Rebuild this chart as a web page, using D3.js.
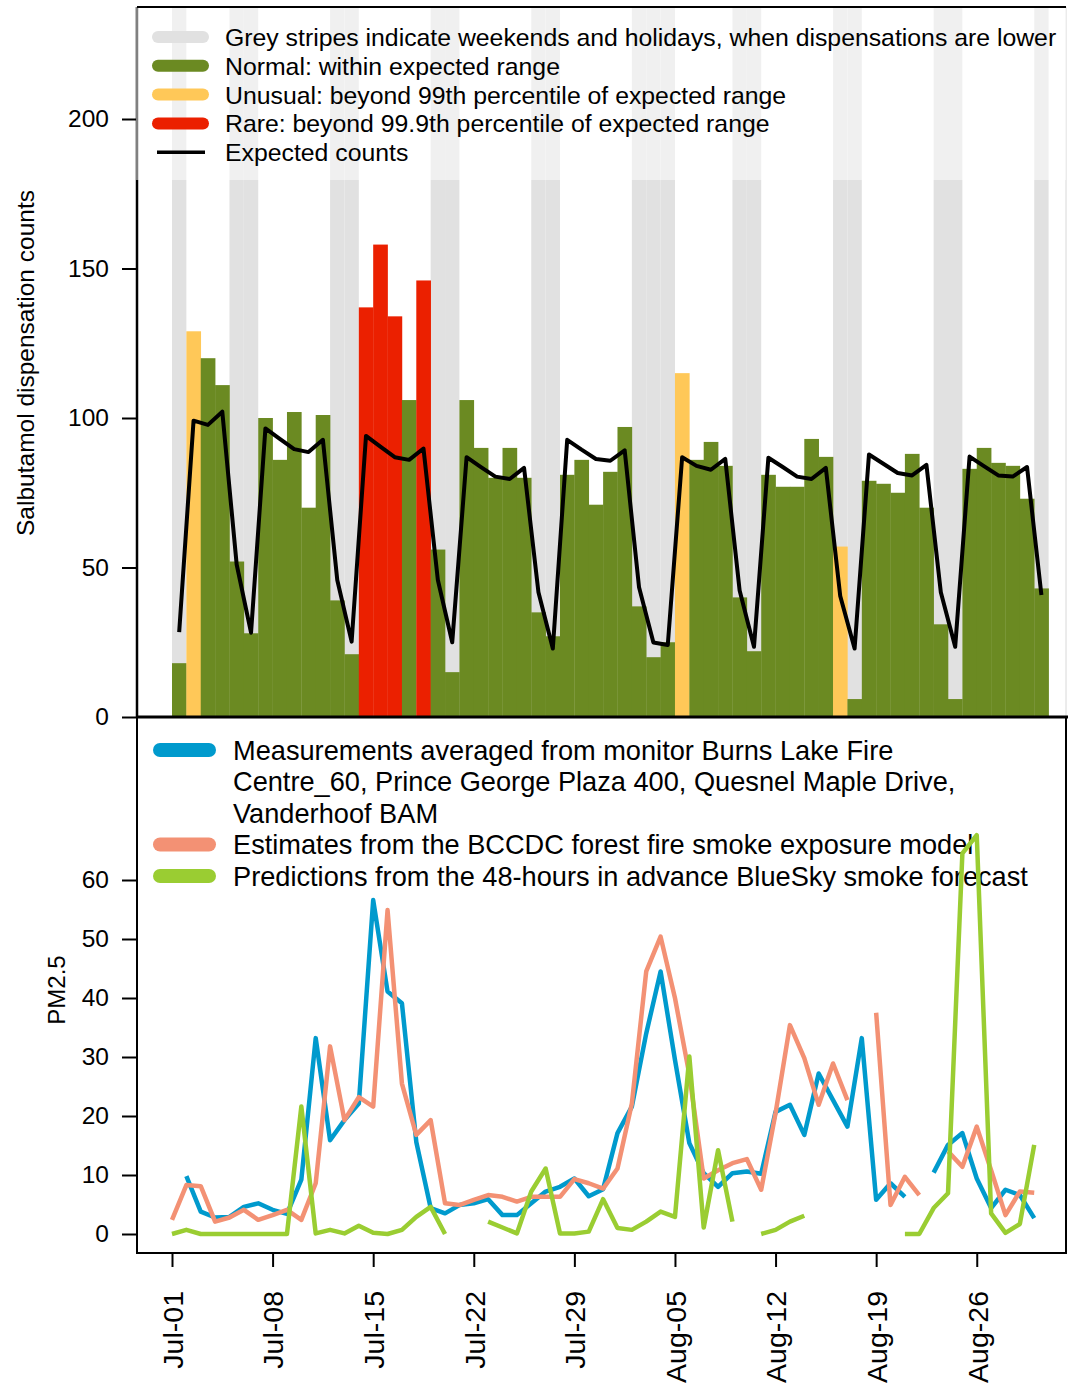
<!DOCTYPE html>
<html><head><meta charset="utf-8">
<script src="https://cdn.jsdelivr.net/npm/d3@7"></script>
<style>
body{margin:0;background:#fff}
svg text{font-family:"Liberation Sans",Arial,Helvetica,sans-serif;fill:#000}
</style>
</head><body>
<svg id="chart" width="1068" height="1387"></svg>
<script>
// ---------- data ----------
const startDate = "2014-07-01";
const endDate = "2014-08-31"; // exclusive end of x range
const counts = [18,129,120,111,52,28,100,86,102,70,101,39,21,137,158,134,106,146,56,15,
  106,90,80,90,80,35,27,81,86,71,82,97,37,20,25,115,86,92,84,40,22,81,77,77,93,87,57,6,
  79,78,75,88,70,31,6,83,90,85,84,73,43];
const status = ("N" + "U" + "NNNNNNNNNNN" + "RRR" + "N" + "R" + "NNNNNNNNNNNNNNNNN" + "U" +
  "NNNNNNNNNN" + "U" + "NNNNNNNNNNNNNN").split("");
const expected = [28.4,99.1,97.7,102.1,51,28.2,96.5,93,89.6,88.6,92.7,45.8,25.2,94,90.4,86.9,86,89.8,45.8,25,
  86.9,83.6,80.4,79.6,83.3,41.7,22.9,92.7,89.4,86.3,85.7,89.2,43.4,24.9,24.1,86.9,84,82.7,86.3,42.3,23.5,
  86.7,83.6,80.4,79.6,83.3,40.5,22.9,87.8,84.7,81.6,80.8,84.3,41.7,23.5,87.1,83.9,80.8,80.4,83.6,40.8];
const shadeDays = ["2014-07-01","2014-07-05","2014-07-06","2014-07-12","2014-07-13","2014-07-19","2014-07-20",
  "2014-07-26","2014-07-27","2014-08-02","2014-08-03","2014-08-04","2014-08-09","2014-08-10",
  "2014-08-16","2014-08-17","2014-08-23","2014-08-24","2014-08-30"];
const pmMeasured = [null,9.8,3.8,2.8,2.9,4.6,5.2,4.1,3.4,9.2,33.2,15.9,19.3,22.1,56.6,41.1,39.1,15.6,4.4,3.5,
  4.9,5.2,5.9,3.2,3.2,5.2,7.2,8.0,9.4,6.4,7.6,17.1,21.6,34.0,44.5,29.5,15.4,10.3,8.0,10.3,10.6,
  10.2,20.7,21.9,16.8,27.2,22.7,18.2,33.2,5.8,8.6,6.3,null,10.4,15.1,17.1,9.4,4.4,7.5,6.6,2.7];
const pmModel = [2.4,8.3,8.1,2.1,2.8,4.1,2.4,3.2,4.1,2.4,8.6,31.8,19.3,23.2,21.6,54.9,25.5,16.8,19.3,5.2,
  4.9,5.8,6.6,6.3,5.5,6.3,6.3,6.3,9.3,8.6,7.7,11.1,22.1,44.5,50.4,40,27,9.4,10.8,12,12.7,
  7.5,20.5,35.4,29.8,21.9,28.9,22.7,null,37.5,4.9,9.7,6.6,null,14.0,11.4,18.2,10.8,3.2,7.2,7.0];
const pmBlueSky = [0,0.7,0,0,0,0,0,0,0,21.6,0.1,0.7,0.1,1.4,0.2,0,0.7,2.9,4.6,0,
  null,null,2.1,1.1,0.1,7.2,11.1,0.1,0.1,0.4,5.9,1.0,0.7,2.1,3.8,2.9,30.1,1.1,14.2,2.1,null,
  0,0.7,2.1,3.1,null,null,null,null,null,null,0,0,4.4,6.9,64.5,67.6,3.5,0.2,1.7,15.1];
const tickDates = ["2014-07-01","2014-07-08","2014-07-15","2014-07-22","2014-07-29","2014-08-05","2014-08-12","2014-08-19","2014-08-26"];
const tickLabels = ["Jul-01","Jul-08","Jul-15","Jul-22","Jul-29","Aug-05","Aug-12","Aug-19","Aug-26"];
const countTicks = [0,50,100,150,200];
const pmTicks = [0,10,20,30,40,50,60];
const topLegend = [
  {label:"Grey stripes indicate weekends and holidays, when dispensations are lower", color:"#e1e1e1", w:12},
  {label:"Normal: within expected range", color:"#6b8a22", w:12},
  {label:"Unusual: beyond 99th percentile of expected range", color:"#ffc858", w:12},
  {label:"Rare: beyond 99.9th percentile of expected range", color:"#eb2000", w:12},
  {label:"Expected counts", color:"#000", w:3.5}
];
const bottomLegend = [
  {lines:["Measurements averaged from monitor Burns Lake Fire","Centre_60, Prince George Plaza 400, Quesnel Maple Drive,","Vanderhoof BAM"], color:"#009acd"},
  {lines:["Estimates from the BCCDC forest fire smoke exposure model"], color:"#f39174"},
  {lines:["Predictions from the 48-hours in advance BlueSky smoke forecast"], color:"#9acd32"}
];
const statusColor = {N:"#6b8a22", U:"#ffc858", R:"#eb2000"};

// ---------- setup ----------
const parse = d3.utcParse("%Y-%m-%d");
const days = d3.utcDays(parse(startDate), parse(endDate)).slice(0, counts.length);
const svg = d3.select("#chart");
const L = 137, R = 1066;
const x = d3.scaleUtc().domain([parse(startDate), parse(endDate)]).range([172, 1048.6]);
const yTop = d3.scaleLinear().domain([0,200]).range([717,119]);
const yBot = d3.scaleLinear().domain([0,60]).range([1234,880]);
const topPlotTop = 7;

// ---------- top panel ----------
const gTop = svg.append("g");
gTop.selectAll("rect.shade").data(shadeDays.map(parse)).join("rect")
  .attr("x", d => x(d)).attr("width", d => x(d3.utcDay.offset(d,1)) - x(d))
  .attr("y", topPlotTop).attr("height", 717 - topPlotTop).attr("fill", "#e1e1e1");
gTop.selectAll("rect.bar").data(days).join("rect")
  .attr("x", d => x(d)).attr("width", d => x(d3.utcDay.offset(d,1)) - x(d) + 0.3)
  .attr("y", (d,i) => yTop(counts[i])).attr("height", (d,i) => yTop(0) - yTop(counts[i]))
  .attr("fill", (d,i) => statusColor[status[i]]);
gTop.append("path").datum(days)
  .attr("fill","none").attr("stroke","#000").attr("stroke-width",4).attr("stroke-linejoin","round")
  .attr("d", d3.line().x(d => x(d3.utcHour.offset(d,12))).y((d,i) => yTop(expected[i])));

// y axis top
const axTop = gTop.append("g").attr("transform",`translate(${L},0)`)
  .call(d3.axisLeft(yTop).tickValues(countTicks).tickSize(15).tickPadding(13));
axTop.select(".domain").remove();
axTop.selectAll("line").attr("stroke","#000").attr("stroke-width",2);
axTop.selectAll("text").attr("font-size",24.5).attr("font-family",null);
gTop.append("line").attr("x1",L).attr("x2",L).attr("y1",topPlotTop).attr("y2",717)
  .attr("stroke","#000").attr("stroke-width",2.5);
gTop.append("line").attr("x1",R).attr("x2",R).attr("y1",topPlotTop).attr("y2",717)
  .attr("stroke","#d8d8d8").attr("stroke-width",1);
gTop.append("text").attr("transform","translate(34,363) rotate(-90)")
  .attr("text-anchor","middle").attr("font-size",24.5).text("Salbutamol dispensation counts");

// top legend
gTop.append("rect").attr("x",L-1).attr("y",topPlotTop).attr("width",R-L+1).attr("height",180-topPlotTop)
  .attr("fill","#fff").attr("fill-opacity",0.5);
gTop.append("line").attr("x1",L).attr("x2",R).attr("y1",topPlotTop).attr("y2",topPlotTop)
  .attr("stroke","#000").attr("stroke-width",2);
const tl = gTop.selectAll("g.tl").data(topLegend).join("g")
  .attr("transform",(d,i)=>`translate(0,${37 + i*28.8})`);
tl.append("line").attr("x1",d => d.w > 5 ? 158 : 157).attr("x2",d => d.w > 5 ? 203 : 205)
  .attr("stroke",d=>d.color).attr("stroke-width",d=>d.w)
  .attr("stroke-linecap",d => d.w > 5 ? "round" : "butt");
tl.append("text").attr("x",225).attr("dy","0.36em").attr("font-size",24.8).text(d=>d.label);

// ---------- bottom panel ----------
const gBot = svg.append("g");
// legend (drawn under the lines)
let row = 0;
const rowY = [750, 781.5, 813, 844.5, 876];
bottomLegend.forEach(item => {
  gBot.append("line").attr("x1",160).attr("x2",209).attr("y1",rowY[row]).attr("y2",rowY[row])
    .attr("stroke",item.color).attr("stroke-width",14).attr("stroke-linecap","round");
  item.lines.forEach(t => {
    gBot.append("text").attr("x",233).attr("y",rowY[row]).attr("dy","0.36em")
      .attr("font-size",27.2).text(t);
    row++;
  });
});
const series = [
  {values: pmMeasured, color: "#009acd"},
  {values: pmModel, color: "#f39174"},
  {values: pmBlueSky, color: "#9acd32"}
];
series.forEach(s => {
  gBot.append("path").datum(days.map((d,i)=>({d, v:s.values[i]})))
    .attr("fill","none").attr("stroke",s.color).attr("stroke-width",4.5)
    .attr("stroke-linejoin","round").attr("stroke-linecap","butt")
    .attr("d", d3.line().defined(p => p.v !== null).x(p => x(p.d)).y(p => yBot(p.v)));
});
// frame
gBot.append("rect").attr("x",L).attr("y",717).attr("width",R-L).attr("height",1253-717)
  .attr("fill","none").attr("stroke","#000").attr("stroke-width",2);
gBot.append("line").attr("x1",L).attr("x2",1068).attr("y1",717).attr("y2",717)
  .attr("stroke","#000").attr("stroke-width",3);
// y axis bottom
const axBot = gBot.append("g").attr("transform",`translate(${L},0)`)
  .call(d3.axisLeft(yBot).tickValues(pmTicks).tickSize(15).tickPadding(13));
axBot.select(".domain").remove();
axBot.selectAll("line").attr("stroke","#000").attr("stroke-width",2);
axBot.selectAll("text").attr("font-size",24.5).attr("font-family",null);
gBot.append("text").attr("transform","translate(65,990) rotate(-90)")
  .attr("text-anchor","middle").attr("font-size",24).text("PM2.5");
// x axis
const axX = gBot.append("g").attr("transform","translate(0,1253)")
  .call(d3.axisBottom(x).tickValues(tickDates.map(parse)).tickSize(14)
    .tickFormat((d,i) => tickLabels[i]));
axX.select(".domain").remove();
axX.selectAll("line").attr("stroke","#000").attr("stroke-width",2);
axX.selectAll("text").attr("font-size",28.5).attr("font-family",null)
  .attr("transform","rotate(-90)").attr("text-anchor","end")
  .attr("x",-38).attr("y",0).attr("dy","0.36em");
</script>
</body></html>
